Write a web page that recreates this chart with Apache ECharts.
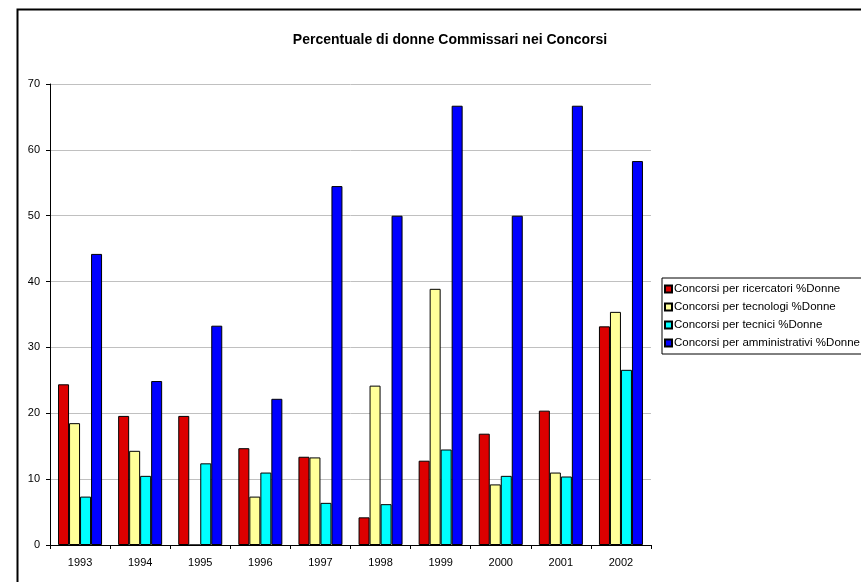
<!DOCTYPE html>
<html>
<head>
<meta charset="utf-8">
<script src="https://cdn.jsdelivr.net/npm/echarts@6/dist/echarts.min.js"></script>
<style>html,body{margin:0;padding:0;background:#fff}#c{width:861px;height:582px}</style>
</head>
<body>
<div id="c"></div>
<script>
var categories = ['1993','1994','1995','1996','1997','1998','1999','2000','2001','2002'];
var ricercatori = [24.4, 19.6, 19.6, 14.7, 13.4, 4.2, 12.8, 16.9, 20.4, 33.2];
var tecnologi = [18.5, 14.3, 0, 7.35, 13.3, 24.2, 38.9, 9.2, 11.0, 35.4];
var tecnici = [7.35, 10.5, 12.4, 11.0, 6.4, 6.2, 14.5, 10.5, 10.4, 26.6];
var amministrativi = [44.2, 24.9, 33.3, 22.2, 54.5, 50.0, 66.7, 50.0, 66.7, 58.3];
var seriesNames = ['Concorsi per ricercatori %Donne','Concorsi per tecnologi %Donne','Concorsi per tecnici %Donne','Concorsi per amministrativi %Donne'];
var yTicks = [0,10,20,30,40,50,60,70];

var chart = echarts.init(document.getElementById('c'));
var font = 'Liberation Sans, Arial, sans-serif';
function bar(name, data, color) {
  return {
    name: name, type: 'bar', data: data, barWidth: 11, barGap: '0%',
    itemStyle: {color: color, borderColor: '#000', borderWidth: 1},
    emphasis: {disabled: true}
  };
}
chart.setOption({
  animation: false,
  textStyle: {fontFamily: font},
  title: {
    text: 'Percentuale di donne Commissari nei Concorsi',
    left: 445, top: 28, textAlign: 'center',
    textStyle: {fontSize: 14, fontWeight: 'bold', color: '#000', fontFamily: font}
  },
  graphic: [{
    type: 'rect', left: 15, top: 7, shape: {width: 900, height: 700},
    style: {fill: 'none', stroke: '#000', lineWidth: 2}, silent: true
  }],
  legend: {
    orient: 'vertical', left: 662, top: 278,
    width: 220,
    itemWidth: 7, itemHeight: 7, itemGap: 6,
    padding: [5, 30, 5, 2],
    borderColor: '#000', borderWidth: 1,
    icon: 'rect',
    textStyle: {fontSize: 11.5, color: '#000', fontFamily: font, padding: [0,0,0,-3]},
    data: seriesNames
  },
  grid: {left: 50, right: 210, top: 84, bottom: 37, containLabel: false},
  xAxis: {
    type: 'category', data: categories,
    axisLine: {lineStyle: {color: '#000', width: 1}},
    axisTick: {show: true, interval: 0, length: 4, lineStyle: {color: '#000'}},
    axisLabel: {color: '#000', fontSize: 11, margin: 12, fontFamily: font}
  },
  yAxis: {
    type: 'value', min: yTicks[0], max: yTicks[yTicks.length-1], interval: 10,
    axisLine: {show: true, lineStyle: {color: '#000', width: 1}},
    axisTick: {show: true, length: 4, lineStyle: {color: '#000'}},
    axisLabel: {color: '#000', fontSize: 11, margin: 10, fontFamily: font},
    splitLine: {lineStyle: {color: '#C0C0C0', width: 1}}
  },
  series: [
    bar(seriesNames[0], ricercatori, '#DD0000'),
    bar(seriesNames[1], tecnologi, '#FFFF99'),
    bar(seriesNames[2], tecnici, '#00FFFF'),
    bar(seriesNames[3], amministrativi, '#0000FF')
  ]
});
</script>
</body>
</html>
